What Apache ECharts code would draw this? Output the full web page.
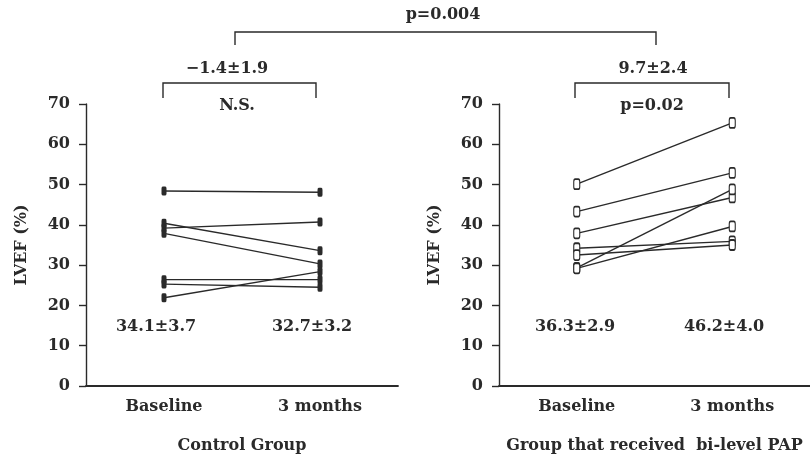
<!DOCTYPE html>
<html>
<head>
<meta charset="utf-8">
<script src="https://cdn.jsdelivr.net/npm/echarts@6/dist/echarts.min.js"></script>
<style>
  html, body { margin: 0; padding: 0; background: #fff; }
  #main { width: 810px; height: 459px; }
</style>
</head>
<body>
<div id="main"></div>
<script>
// time points
var timePoints = ['Baseline', '3 months'];
var yTicks = [0, 70, 10];

// LVEF (%) per patient: [baseline, 3 months]
var controlPatients = [
  [48.4, 48.1],
  [39.2, 40.7],
  [40.4, 33.6],
  [37.9, 30.3],
  [26.4, 26.4],
  [25.3, 24.5],
  [21.9, 28.4]
];
var papPatients = [
  [50.1, 65.3],
  [43.3, 52.9],
  [37.9, 46.8],
  [29.3, 48.8],
  [34.2, 35.9],
  [32.5, 35.0],
  [29.2, 39.6]
];

// text annotations
var groupNames = ['Control Group', 'Group that received  bi-level PAP'];
var meanLabels = ['34.1±3.7', '32.7±3.2', '36.3±2.9', '46.2±4.0'];
var changeLabels = ['−1.4±1.9', '9.7±2.4'];
var withinP = ['N.S.', 'p=0.02'];
var betweenP = 'p=0.004';

var FONT = 'DejaVu Serif';
var INK = '#2a2a2a';
var FS = 16;

var chart = echarts.init(document.getElementById('main'));

function yAx(idx) {
  return {
    type: 'value', gridIndex: idx,
    min: yTicks[0], max: yTicks[1], interval: yTicks[2],
    name: 'LVEF (%)', nameLocation: 'middle', nameRotate: 90, nameGap: 56,
    nameTextStyle: { fontFamily: FONT, fontSize: FS, fontWeight: 'bold', color: INK },
    axisLine: { show: true, lineStyle: { color: INK, width: 1.4 } },
    axisTick: { show: true, length: 7, lineStyle: { color: INK, width: 1.4 } },
    axisLabel: { margin: 16, fontFamily: FONT, fontSize: FS, fontWeight: 'bold', color: INK },
    splitLine: { show: false }
  };
}
function xAx(idx) {
  return {
    type: 'category', gridIndex: idx, data: timePoints, boundaryGap: true,
    name: groupNames[idx], nameLocation: 'middle', nameGap: 52,
    nameTextStyle: { fontFamily: FONT, fontSize: FS, fontWeight: 'bold', color: INK },
    axisLine: { show: true, lineStyle: { color: INK, width: 1.8 } },
    axisTick: { show: false },
    axisLabel: { margin: 13, fontFamily: FONT, fontSize: FS, fontWeight: 'bold', color: INK }
  };
}

var series = [];
controlPatients.forEach(function (p) {
  series.push({
    type: 'line', xAxisIndex: 0, yAxisIndex: 0, data: p,
    symbol: 'roundRect', symbolSize: [5, 9],
    itemStyle: { color: INK },
    lineStyle: { color: INK, width: 1.4 },
    silent: true, animation: false
  });
});
papPatients.forEach(function (p) {
  series.push({
    type: 'line', xAxisIndex: 1, yAxisIndex: 1, data: p,
    symbol: 'roundRect', symbolSize: [6, 10], showAllSymbol: true,
    itemStyle: { color: '#fff', borderColor: INK, borderWidth: 1.4 },
    lineStyle: { color: INK, width: 1.4 },
    silent: true, animation: false
  });
});

function txt(x, y, s) {
  return {
    type: 'text', x: x, y: y,
    style: { text: s, fontFamily: FONT, fontSize: FS, fontWeight: 'bold', fill: INK, align: 'center', verticalAlign: 'middle' }
  };
}
function bracket(x1, x2, yTop, yBot) {
  return {
    type: 'polyline',
    shape: { points: [[x1, yBot], [x1, yTop], [x2, yTop], [x2, yBot]] },
    style: { stroke: INK, lineWidth: 1.4, fill: null }
  };
}

var graphics = [
  txt(443, 15, betweenP),
  bracket(235, 656, 32, 45),
  txt(227, 69, changeLabels[0]),
  bracket(163, 316, 83, 98),
  txt(237, 106, withinP[0]),
  txt(653, 69, changeLabels[1]),
  bracket(575, 729, 83, 98),
  txt(652, 106, withinP[1]),
  txt(156, 327, meanLabels[0]),
  txt(312, 327, meanLabels[1]),
  txt(575, 327, meanLabels[2]),
  txt(724, 327, meanLabels[3])
];

chart.setOption({
  backgroundColor: '#fff',
  animation: false,
  grid: [
    { left: 86, right: 412, top: 104, bottom: 72 },
    { left: 499, right: 0, top: 104, bottom: 72 }
  ],
  xAxis: [xAx(0), xAx(1)],
  yAxis: [yAx(0), yAx(1)],
  series: series,
  graphic: graphics
});
</script>
</body>
</html>
